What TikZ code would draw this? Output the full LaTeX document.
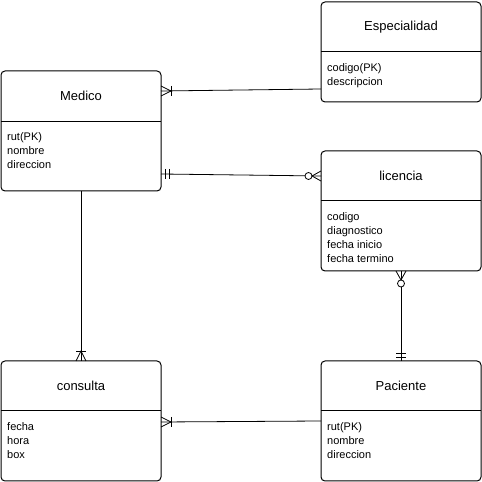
\documentclass[tikz,border=0pt]{standalone}
\usepackage{fontspec}
\setmainfont{Liberation Sans}

\tikzset{
  entity/.style={draw, rounded corners=4pt, minimum width=160pt, anchor=north west,
    inner sep=0pt, outer sep=0pt, line width=1pt},
  enttitle/.style={font=\fontsize{13}{15}\selectfont},
  entattrs/.style={anchor=north west, align=left, inner sep=0pt,
    font=\fontsize{11}{14}\selectfont},
  conn/.style={line width=0.8pt},
  onemany/.pic={
    \draw[line width=0.8pt] (0,5) -- (10,0) -- (0,-5);
    \draw[line width=0.8pt] (10,5) -- (10,-5);
  },
  zeromany/.pic={
    \draw[line width=0.8pt] (0,5) -- (9,0) -- (0,-5);
    \draw[line width=0.8pt,fill=white] (12.5,0) circle[radius=3.5pt];
  },
  onlyone/.pic={
    \draw[line width=0.8pt] (4,5) -- (4,-5);
    \draw[line width=0.8pt] (8,5) -- (8,-5);
  }
}

\begin{document}
\begin{tikzpicture}[x=1pt,y=1pt]
\useasboundingbox (0,0) rectangle (482,482);

% entidades
\node[entity, minimum height=100pt] (especialidad) at (321,480) {};
\node[entity, minimum height=120pt] (medico) at (1,411) {};
\node[entity, minimum height=120pt] (licencia) at (321,331) {};
\node[entity, minimum height=120pt] (consulta) at (1,121) {};
\node[entity, minimum height=120pt] (paciente) at (321,121) {};

% separadores
\draw[line width=1pt] ([yshift=-50pt]especialidad.north west) -- ([yshift=-50pt]especialidad.north east);
\draw[line width=1pt] ([yshift=-51pt]medico.north west) -- ([yshift=-51pt]medico.north east);
\draw[line width=1pt] ([yshift=-50pt]licencia.north west) -- ([yshift=-50pt]licencia.north east);
\draw[line width=1pt] ([yshift=-50pt]consulta.north west) -- ([yshift=-50pt]consulta.north east);
\draw[line width=1pt] ([yshift=-50pt]paciente.north west) -- ([yshift=-50pt]paciente.north east);

% titulos
\node[enttitle] (especialidad-t) at ([yshift=-25pt]especialidad.north) {Especialidad};
\node[enttitle] (medico-t) at ([yshift=-25pt]medico.north) {Medico};
\node[enttitle] (licencia-t) at ([yshift=-25pt]licencia.north) {licencia};
\node[enttitle] (consulta-t) at ([yshift=-25pt]consulta.north) {consulta};
\node[enttitle] (paciente-t) at ([yshift=-25pt]paciente.north) {Paciente};

% atributos
\node[entattrs] (especialidad-a) at ([xshift=6pt,yshift=-61pt]especialidad.north west) {codigo(PK)\\descripcion};
\node[entattrs] (medico-a) at ([xshift=6pt,yshift=-61pt]medico.north west) {rut(PK)\\nombre\\direccion};
\node[entattrs] (licencia-a) at ([xshift=6pt,yshift=-61pt]licencia.north west) {codigo\\diagnostico\\fecha inicio\\fecha termino};
\node[entattrs] (consulta-a) at ([xshift=6pt,yshift=-61pt]consulta.north west) {fecha\\hora\\box};
\node[entattrs] (paciente-a) at ([xshift=6pt,yshift=-61pt]paciente.north west) {rut(PK)\\nombre\\direccion};

% puntos de union
\coordinate (med-esp) at ([yshift=40pt]medico.east);
\coordinate (esp-med) at ([yshift=-37pt]especialidad.west);
\coordinate (med-lic) at ([yshift=-43pt]medico.east);
\coordinate (lic-med) at ([yshift=35pt]licencia.west);
\coordinate (con-pac) at ([yshift=-1pt]consulta.east);

% relaciones
\draw[conn] (esp-med) -- (med-esp);
\draw[conn] (med-lic) -- (lic-med);
\draw[conn] (licencia.south) -- (paciente.north);
\draw[conn] (medico.south) -- (consulta.north);
\draw[conn] (paciente.west) -- (con-pac);

% cardinalidades
\pic at (med-esp) {onemany};
\pic at (med-lic) {onlyone};
\pic[rotate=180] at (lic-med) {zeromany};
\pic[rotate=-90] at (licencia.south) {zeromany};
\pic[rotate=90] at (paciente.north) {onlyone};
\pic[rotate=90] at (consulta.north) {onemany};
\pic at (con-pac) {onemany};
\end{tikzpicture}
\end{document}
